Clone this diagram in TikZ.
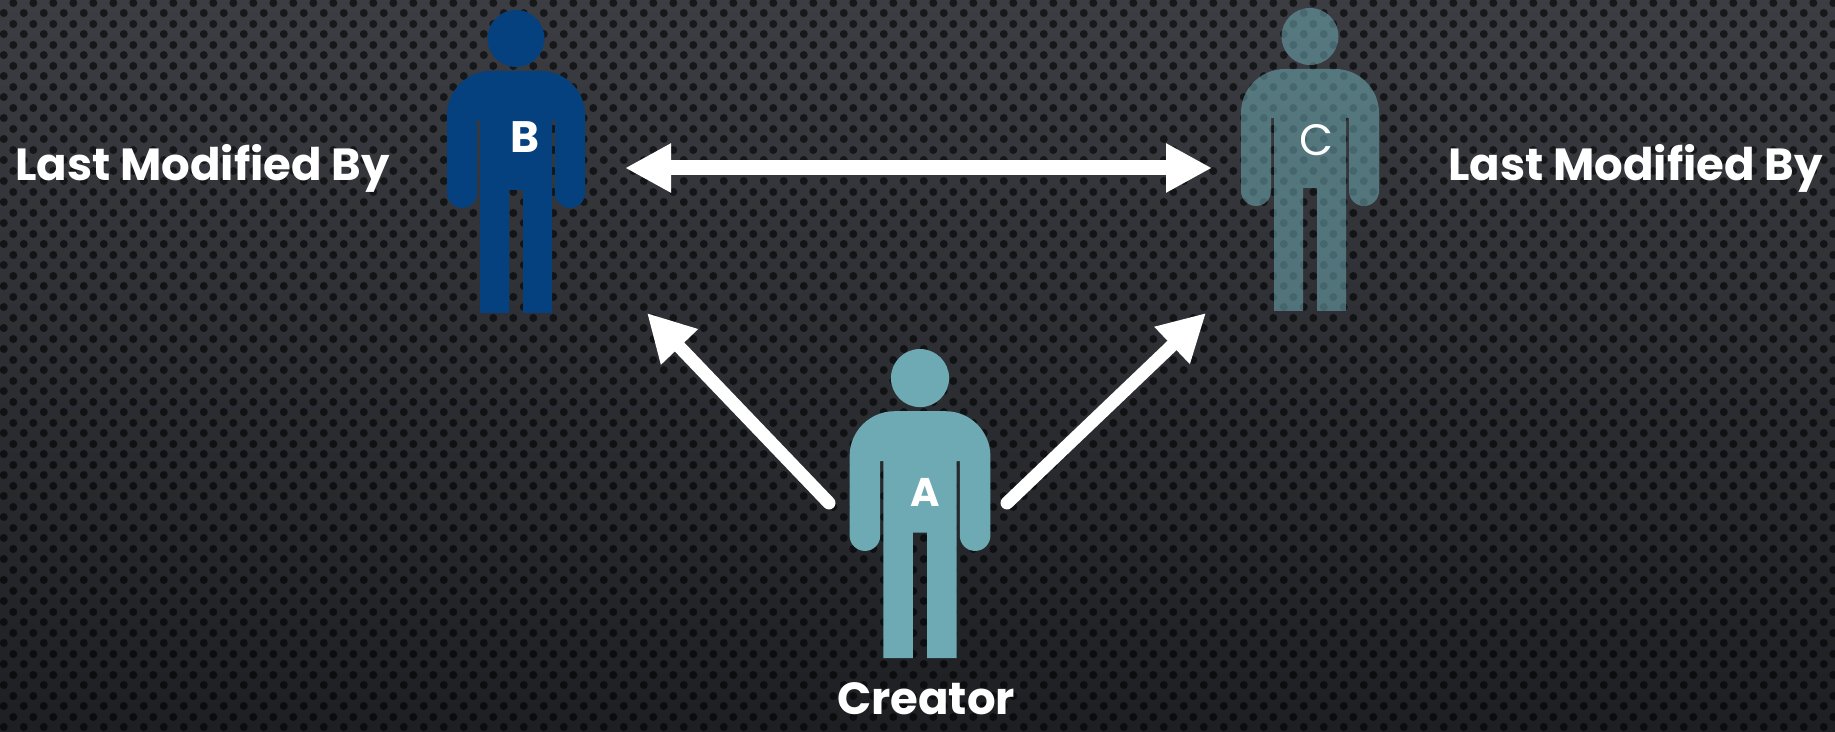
\documentclass[tikz,border=0pt]{standalone}
\usepackage{fontspec}
\setmainfont{Poppins}
\usepackage{tikz}
\usetikzlibrary{arrows.meta,patterns.meta}

\definecolor{bgTop}{HTML}{3B3D42}
\definecolor{bgBot}{HTML}{1D1F23}
\definecolor{bBlue}{HTML}{05407F}
\definecolor{aTeal}{HTML}{6EAAB3}

\tikzdeclarepattern{
  name=perfdots,
  type=uncolored,
  bounding box={(0pt,0pt) and (10pt,10.5pt)},
  tile size={(10pt,10.5pt)},
  code={
    \pgfpathcircle{\pgfpoint{2.5pt}{2.6pt}}{2.1pt}
    \pgfpathcircle{\pgfpoint{7.5pt}{7.85pt}}{2.1pt}
    \pgfusepath{fill}
  }
}

\tikzset{
  person/.pic={
    \fill (0,-28.5) circle [radius=28.5];
    \fill (-7,-180) -- (-7,-303) -- (-36,-303) -- (-36,-110) -- (-39,-110) -- (-39,-183)
      arc[start angle=0, end angle=-180, radius=15] -- (-69,-105)
      arc[start angle=180, end angle=90, radius=44] -- (25,-61)
      arc[start angle=90, end angle=0, radius=44] -- (69,-183)
      arc[start angle=0, end angle=-180, radius=15] -- (39,-110) -- (36,-110)
      -- (36,-303) -- (7,-303) -- (7,-180) -- cycle;
  },
  lbl/.style={text=white, inner sep=0pt, font=\bfseries\fontsize{22.5}{27}\selectfont},
  letter/.style={text=white, font=\bfseries\fontsize{22}{26}\selectfont},
  bigarrow/.style={draw=white, line width=7.5pt,
    {Triangle[length=23pt, width=23pt]}-{Triangle[length=23pt, width=23pt]}},
  diagarrow/.style={draw=white, line width=6.5pt, line cap=round, -{Triangle[length=23.5pt, width=24pt]}}
}

\begin{document}
\begin{tikzpicture}[x=0.5pt, y=0.5pt]
  \useasboundingbox (0,0) rectangle (1835,732);
  % background
  \fill[top color=bgTop, bottom color=bgBot] (0,0) rectangle (1835,732);
  \fill[pattern=perfdots, pattern color=black, fill opacity=0.6] (0,0) rectangle (1835,732);

  % people
  \pic[color=bBlue] at (516,722) {person};
  \pic[color=aTeal, opacity=0.55] at (1310,724) {person};
  \pic[color=aTeal, scale=1.02] at (920,383) {person};

  \node (B) at (525,595) [letter] {B};
  \node (C) at (1316,592) [letter, font=\fontsize{22}{26}\selectfont] {C};
  \node (A) at (925,240) [letter, font=\bfseries\fontsize{20}{24}\selectfont] {A};

  \node (LB) at (15,551) [lbl, anchor=base west] {Last Modified By};
  \node (LC) at (1448,551) [lbl, anchor=base west] {Last Modified By};
  \node (CR) at (926,17) [lbl, anchor=base] {Creator};

  % arrows
  \coordinate (bTip) at (625,564);
  \coordinate (cTip) at (1212,564);
  \coordinate (aLeft) at (829,229);
  \coordinate (aRight) at (1007,229);
  \coordinate (bLow) at (647,419);
  \coordinate (cLow) at (1206,419);
  \draw[bigarrow] (bTip) -- (cTip);
  \draw[diagarrow] (aLeft) -- (bLow);
  \draw[diagarrow] (aRight) -- (cLow);
\end{tikzpicture}
\end{document}
